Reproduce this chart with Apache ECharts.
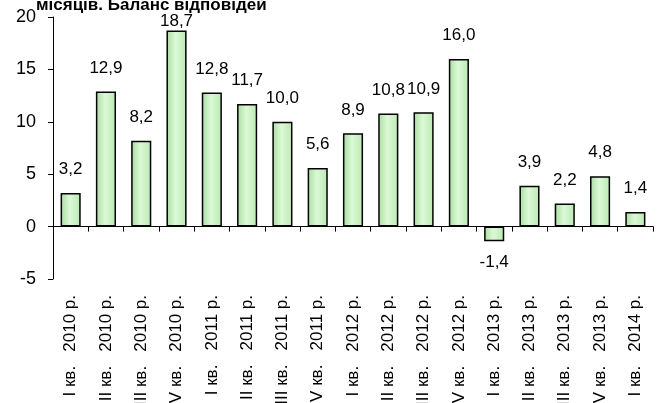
<!DOCTYPE html>
<html><head><meta charset="utf-8">
<script src="https://cdn.jsdelivr.net/npm/echarts@6/dist/echarts.min.js"></script>
<style>html,body{margin:0;padding:0;background:#fff}#c{width:666px;height:403px}</style>
</head><body><div id="c"></div>
<script>
const categories = ["І кв.   2010 р.","ІІ кв.   2010 р.","ІІІ кв.   2010 р.","ІV кв.   2010 р.",
  "І кв.   2011 р.","ІІ кв.   2011 р.","ІІІ кв.   2011 р.","ІV кв.   2011 р.",
  "І кв.   2012 р.","ІІ кв.   2012 р.","ІІІ кв.   2012 р.","ІV кв.   2012 р.",
  "І кв.   2013 р.","ІІ кв.   2013 р.","ІІІ кв.   2013 р.","ІV кв.   2013 р.",
  "І кв.   2014 р."];
const values = [3.2,12.9,8.2,18.7,12.8,11.7,10.0,5.6,8.9,10.8,10.9,16.0,-1.4,3.9,2.2,4.8,1.4];
const yTicks = {min:-5, max:20, interval:5};
const titleText = "місяців. Баланс відповідей";

const font = "Liberation Sans, Arial, sans-serif";
const chart = echarts.init(document.getElementById('c'), null, {renderer:'canvas'});
const fill = new echarts.graphic.LinearGradient(0,0,1,0,[
  {offset:0,color:'#a6de9c'},{offset:0.45,color:'#dcf9d6'},{offset:1,color:'#b9eab1'}]);
chart.setOption({
  animation:false,
  title:{text:titleText,left:31,top:-8,textStyle:{fontFamily:font,fontSize:17,fontWeight:'bold',color:'#000'}},
  grid:{left:53,right:13,top:17,bottom:124,containLabel:false,outerBoundsMode:'none'},
  xAxis:{type:'category',data:categories,
    axisLine:{onZero:true,lineStyle:{color:'#000',width:1}},
    axisTick:{show:true,length:5,inside:false,lineStyle:{color:'#000'}},
    axisLabel:{rotate:90,margin:16,interval:0,fontFamily:font,fontSize:17,color:'#000'}},
  yAxis:{type:'value',min:yTicks.min,max:yTicks.max,interval:yTicks.interval,
    splitLine:{show:false},
    axisLine:{show:true,lineStyle:{color:'#000',width:1}},
    axisTick:{show:true,length:5,lineStyle:{color:'#000'}},
    axisLabel:{margin:17,fontFamily:font,fontSize:18,color:'#000'}},
  series:[{type:'bar',barCategoryGap:'43%',
    data:values.map(v=>({value:v,label:{position:v<0?'bottom':'top',distance:v<0?13:(v>18?1:15)}})),
    itemStyle:{color:fill,borderColor:'#000',borderWidth:1.5},
    label:{show:true,fontFamily:font,fontSize:17,color:'#000',
      formatter:p=>p.value.toFixed(1).replace('.',',')}}]
});
</script></body></html>
